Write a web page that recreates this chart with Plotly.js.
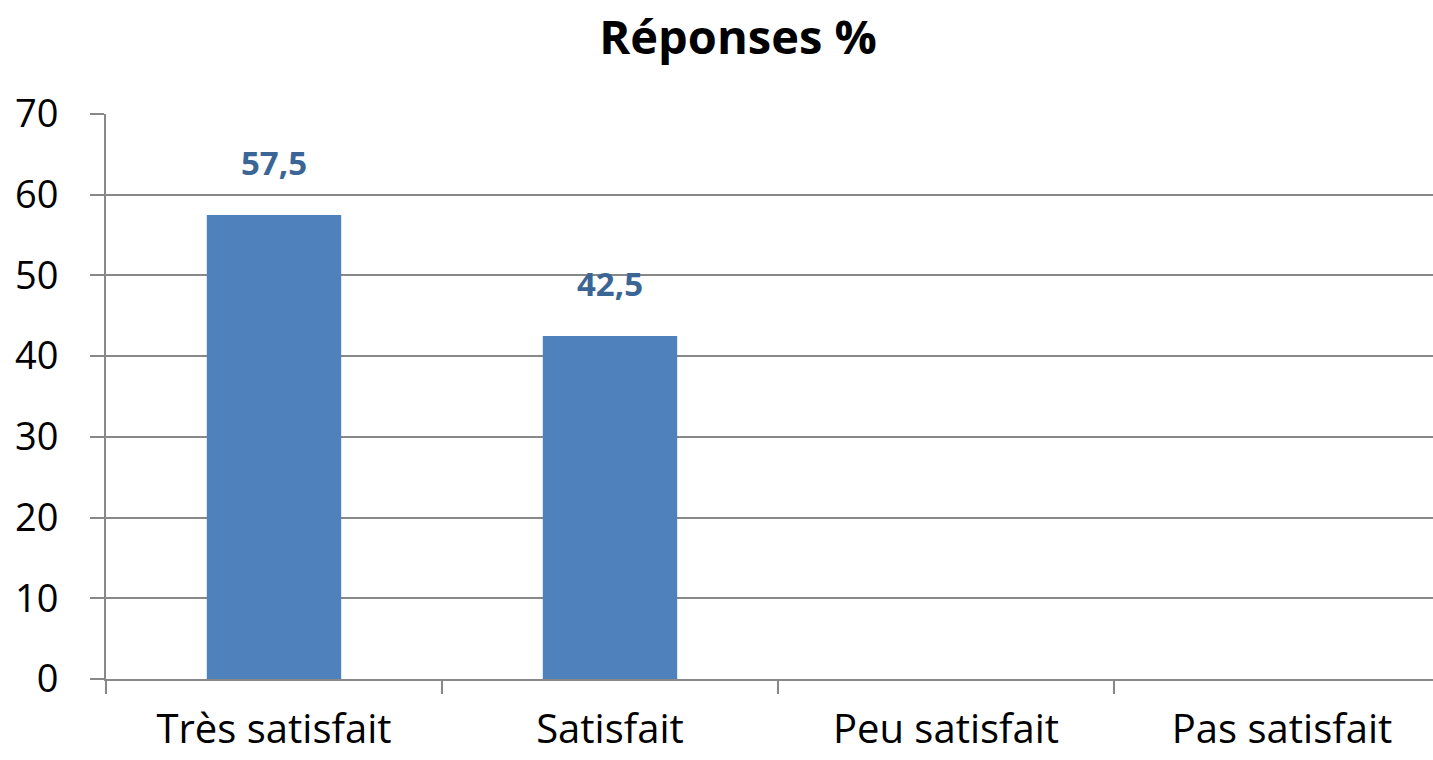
<!DOCTYPE html>
<html>
<head>
<meta charset="utf-8">
<script src="https://cdn.plot.ly/plotly-3.0.1.min.js"></script>
<style>html,body{margin:0;padding:0;overflow:hidden;background:#fff;}</style>
</head>
<body>
<div id="chart" style="width:1450px;height:760px;"></div>
<script>
const categories = ["Très satisfait", "Satisfait", "Peu satisfait", "Pas satisfait"];
const values = [57.5, 42.5, null, null];
const yTicks = [0, 10, 20, 30, 40, 50, 60, 70];

const FONT = '"Open Sans", sans-serif';

const labelAnnotations = categories.map((c, i) => values[i] == null ? null : ({
  x: c, y: values[i], xref: 'x', yref: 'y',
  text: '<b>' + values[i].toFixed(1).replace('.', ',') + '</b>',
  showarrow: false, yanchor: 'bottom', yshift: 28,
  font: {family: FONT, size: 33, color: '#3B6595'}
})).filter(a => a);

const trace = {
  type: 'bar', x: categories, y: values, width: 0.4,
  marker: {color: '#4F81BD'}, hoverinfo: 'none'
};

const layout = {
  width: 1450, height: 760,
  margin: {l: 106, r: 0, t: 114, b: 81},
  paper_bgcolor: '#fff', plot_bgcolor: '#fff',
  title: {text: '<b>Réponses %</b>', xref: 'container', x: 0.509, xanchor: 'center', y: 0.951, yanchor: 'middle',
          font: {family: FONT, size: 47, color: '#000'}},
  showlegend: false,
  separators: ', ',
  xaxis: {
    type: 'category', tickson: 'boundaries', ticks: 'outside', ticklen: 13, tickwidth: 2, tickcolor: '#888',
    showline: true, linecolor: '#888', linewidth: 2, showgrid: false,
    tickfont: {family: FONT, size: 40, color: '#000'}, ticklabelstandoff: 14,
    range: [-0.5, 3.5]
  },
  yaxis: {
    range: [0, 70], tickvals: yTicks, ticks: 'outside', ticklen: 14, tickwidth: 2, tickcolor: '#888',
    showline: true, linecolor: '#888', linewidth: 2, showgrid: true, gridcolor: '#888', gridwidth: 2,
    zeroline: false,
    tickfont: {family: FONT, size: 38, color: '#000'}, ticklabelstandoff: 24
  },
  annotations: labelAnnotations
};

Plotly.newPlot('chart', [trace], layout, {displayModeBar: false, staticPlot: true});
</script>
</body>
</html>
